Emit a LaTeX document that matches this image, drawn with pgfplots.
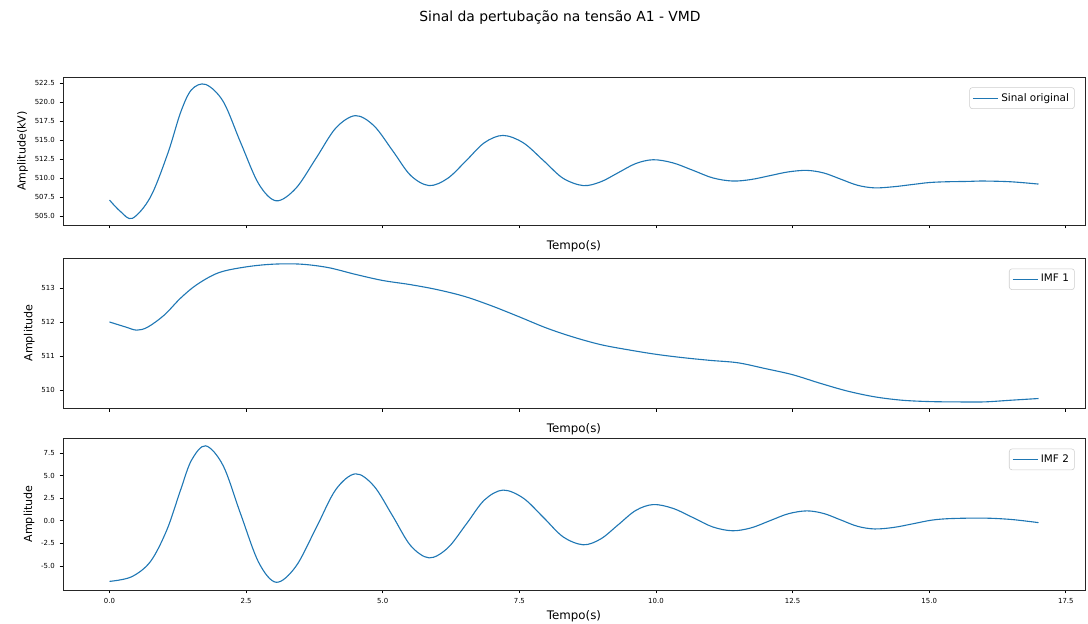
\documentclass[border=0pt]{standalone}
\usepackage{pgfplots}
\pgfplotsset{compat=1.18}
\usepackage{fontspec}
\setmainfont{DejaVu Sans}
\definecolor{mplblue}{HTML}{1F77B4}

\begin{document}
\begin{tikzpicture}[x=1pt,y=1pt]
\useasboundingbox (0,0) rectangle (783.4,449.3);
\pgfplotsset{
  panel/.style={
    scale only axis, width=735.8pt,
    xmin=-0.85, xmax=17.85,
    xtick={0,2.5,5,7.5,10,12.5,15,17.5},
    tick pos=left,
    tick align=outside, major tick length=2.5pt,
    tick style={black, line width=0.5pt},
    axis line style={line width=0.6pt, black!85},
    tick label style={font=\fontsize{5}{6}\selectfont},
    /pgf/number format/assume math mode=true,
    /pgf/number format/fixed, /pgf/number format/fixed zerofill,
    /pgf/number format/precision=1,
    xlabel={Tempo(s)},
    xlabel style={font=\fontsize{8.5}{10}\selectfont, yshift=2pt},
    ylabel style={font=\fontsize{8}{9}\selectfont, yshift=-2pt},
    legend style={at={(0.99,0.93)}, anchor=north east, draw=black!20, rounded corners=2pt,
      font=\fontsize{7.5}{9}\selectfont, inner sep=2pt},
    legend image code/.code={\draw[mplblue, line width=0.8pt] (0pt,0pt) -- (18pt,0pt);},
    legend cell align=left,
  },
  curve/.style={mplblue, line width=0.8pt, smooth, tension=0.55, mark=none},
}

% top panel
\begin{axis}[panel, at={(45.4pt,287.3pt)}, anchor=south west, height=106.6pt,
  ymin=503.82, ymax=523.29,
  ytick={505,507.5,510,512.5,515,517.5,520,522.5},
  xticklabels={}, ylabel={Amplitude(kV)}]
\addplot[curve] coordinates {
(0,507.1) (0.2,505.6) (0.42,504.7) (0.75,507.5) (1.07,513.3) (1.3,518.6) (1.5,521.6) (1.76,522.3)
(2.08,520.07) (2.40,514.65) (2.73,509.23) (3.05,507.0)
(3.41,508.64) (3.78,512.6) (4.14,516.56) (4.5,518.2)
(4.84,516.86) (5.18,513.6) (5.51,510.34) (5.85,509.0)
(6.19,509.96) (6.53,512.3) (6.86,514.64) (7.2,515.6)
(7.57,514.64) (7.94,512.3) (8.30,509.96) (8.67,509.0)
(8.99,509.5) (9.31,510.7) (9.63,511.9) (9.95,512.4)
(10.31,511.99) (10.68,511.0) (11.04,510.01) (11.4,509.6)
(11.74,509.8) (12.08,510.3) (12.42,510.8) (12.76,511.0)
(13.07,510.66) (13.38,509.85) (13.69,509.04) (14.0,508.7)
(14.35,508.85) (14.7,509.15) (15.0,509.4) (15.3,509.5) (15.7,509.55) (16.0,509.6) (16.5,509.5) (17.0,509.2)
};
\addlegendentry{Sinal original}
\end{axis}

% middle panel
\begin{axis}[panel, at={(45.4pt,155.5pt)}, anchor=south west, height=108pt,
  ymin=509.47, ymax=513.88,
  ytick={510,511,512,513},
  yticklabel style={/pgf/number format/precision=0},
  xticklabels={}, ylabel={Amplitude}]
\addplot[curve] coordinates {
(0,512.0) (0.3,511.85) (0.5,511.76) (0.7,511.85) (1.0,512.2) (1.3,512.7) (1.6,513.1) (2.0,513.45)
(2.5,513.62) (3.0,513.7) (3.5,513.7) (4.0,513.6) (4.5,513.4) (5.0,513.22) (5.5,513.1) (6.0,512.95)
(6.5,512.75) (7.0,512.47) (7.5,512.15) (8.0,511.82) (8.5,511.55) (9.0,511.33) (9.5,511.18) (10.0,511.05)
(10.5,510.95) (11.0,510.87) (11.5,510.8) (12.0,510.63) (12.5,510.45) (13.0,510.2) (13.5,509.97) (14.0,509.8)
(14.5,509.7) (15.0,509.66) (15.5,509.65) (16.0,509.65) (16.5,509.7) (17.0,509.75)
};
\addlegendentry{IMF 1}
\end{axis}

% bottom panel
\begin{axis}[panel, at={(45.4pt,24.5pt)}, anchor=south west, height=109.4pt,
  ymin=-7.65, ymax=9.16,
  ytick={-5,-2.5,0,2.5,5,7.5},
  ylabel={Amplitude}]
\addplot[curve] coordinates {
(0,-6.7) (0.4,-6.2) (0.75,-4.5) (1.05,-1.0) (1.3,3.4) (1.5,6.7) (1.76,8.3)
(2.08,6.1) (2.40,0.75) (2.73,-4.6) (3.05,-6.8)
(3.41,-5.05) (3.78,-0.8) (4.14,3.45) (4.5,5.2)
(4.84,3.84) (5.18,0.55) (5.51,-2.74) (5.85,-4.1)
(6.19,-3.0) (6.53,-0.35) (6.86,2.3) (7.2,3.4)
(7.57,2.52) (7.94,0.38) (8.30,-1.77) (8.67,-2.65)
(8.99,-2.0) (9.31,-0.43) (9.63,1.15) (9.95,1.8)
(10.31,1.38) (10.68,0.35) (11.04,-0.68) (11.4,-1.1)
(11.74,-0.78) (12.08,0.0) (12.42,0.78) (12.76,1.1)
(13.07,0.81) (13.38,0.1) (13.69,-0.61) (14.0,-0.9)
(14.35,-0.73) (14.7,-0.33) (15.05,0.08) (15.4,0.25) (16.0,0.3) (16.5,0.15) (17.0,-0.2)
};
\addlegendentry{IMF 2}
\end{axis}

\node[font=\fontsize{10}{12}\selectfont] at (403.2,436.3) {Sinal da pertubação na tensão A1 - VMD};
\end{tikzpicture}
\end{document}
